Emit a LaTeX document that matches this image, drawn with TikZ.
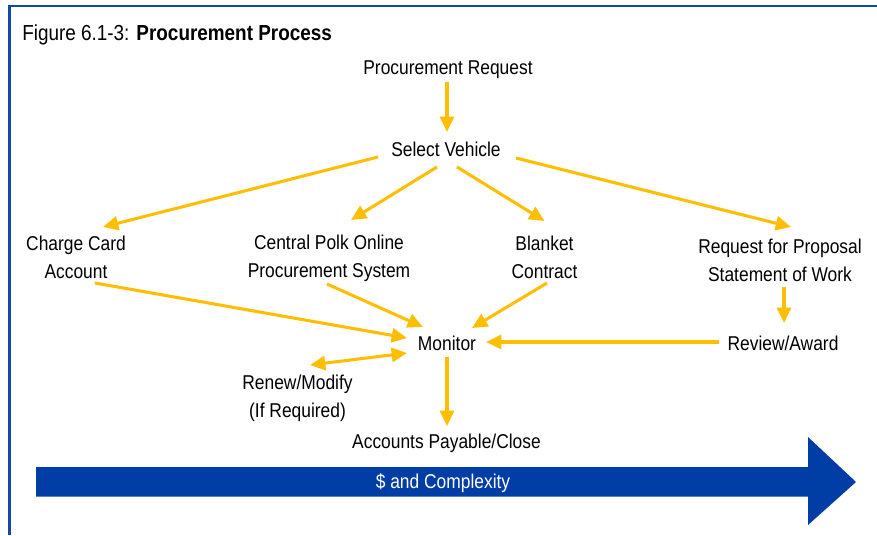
\documentclass[tikz,border=0pt]{standalone}
\usepackage{fontspec}
\setmainfont{Liberation Sans}[FakeStretch=0.87]
\usetikzlibrary{arrows.meta}
\definecolor{gold}{HTML}{FFBF00}
\definecolor{frameblue}{HTML}{1446B0}
\definecolor{barblue}{HTML}{003DA5}
\tikzset{
  lbl/.style={align=center, inner sep=0pt, font=\fontsize{15}{21}\selectfont},
  one/.style={lbl, text height=10.74pt, text depth=0pt},
  arr/.style={draw=gold, line width=2.3pt, -{Triangle[length=11.5pt,width=10.5pt]}},
  dbl/.style={draw=gold, line width=2.3pt, {Triangle[length=11.5pt,width=10.5pt]}-{Triangle[length=11.5pt,width=10.5pt]}}
}
\begin{document}
\begin{tikzpicture}[x=0.75pt,y=-0.75pt]
\useasboundingbox (0,0) rectangle (877,535);
\fill[white] (0,0) rectangle (877,535);
% frame
\draw[frameblue, line width=2pt] (9.5,535) -- (9.5,6) -- (877,6);
% title
\node[anchor=west, inner sep=0pt, text height=11.67pt, text depth=0pt, font=\fontsize{16.3}{19}\selectfont] (title) at (22,33) {Figure 6.1-3: \textbf{Procurement Process}};
% nodes
\node[one] (pr) at (448,67) {Procurement Request};
\node[one] (sv) at (446,149) {Select Vehicle};
\node[lbl] (cc) at (76,257.5) {Charge Card\\Account};
\node[lbl] (cp) at (329,258.5) {Central Polk Online\\Procurement System};
\node[lbl] (bl) at (544.5,257.5) {Blanket\\Contract};
\node[lbl] (rfp) at (780,260.5) {Request for Proposal\\Statement of Work};
\node[one] (mon) at (447,343) {Monitor};
\node[one] (ra) at (783,343) {Review/Award};
\node[lbl] (rn) at (297.5,398) {Renew/Modify\\(If Required)};
\node[one] (ap) at (446.5,441) {Accounts Payable/Close};
% connectors
\draw[arr] ([shift={(-1,15)}]pr.center) -- ([shift={(1,-17)}]sv.center);
\draw[arr] ([shift={(-68,8)}]sv.center) -- ([shift={(27,-30.5)}]cc.center);
\draw[arr] ([shift={(-9,18)}]sv.center) -- ([shift={(22,-38.5)}]cp.center);
\draw[arr] ([shift={(11,18)}]sv.center) -- ([shift={(0,-36.5)}]bl.center);
\draw[arr] ([shift={(70,9)}]sv.center) -- ([shift={(11,-33.5)}]rfp.center);
\draw[arr] ([shift={(19,25.5)}]cc.center) -- ([shift={(-40,-5)}]mon.center);
\draw[arr] ([shift={(-2,25.5)}]cp.center) -- ([shift={(-24,-16)}]mon.center);
\draw[arr] ([shift={(2.5,25.5)}]bl.center) -- ([shift={(25,-15)}]mon.center);
\draw[arr] ([shift={(-64,-1)}]ra.center) -- ([shift={(39,-1)}]mon.center);
\draw[arr] ([shift={(4,26.5)}]rfp.center) -- ([shift={(1,-20)}]ra.center);
\draw[dbl] ([shift={(12.5,-33)}]rn.center) -- ([shift={(-40,10)}]mon.center);
\draw[arr] ([shift={(0,14)}]mon.center) -- ([shift={(0.5,-15)}]ap.center);
% big arrow
\fill[barblue] (36,467) -- (808,467) -- (808,437) -- (856,482) -- (808,525) -- (808,496.5) -- (36,496.5) -- cycle;
\node[one, text=white] (axis) at (443,481.5) {\$ and Complexity};
\end{tikzpicture}
\end{document}
